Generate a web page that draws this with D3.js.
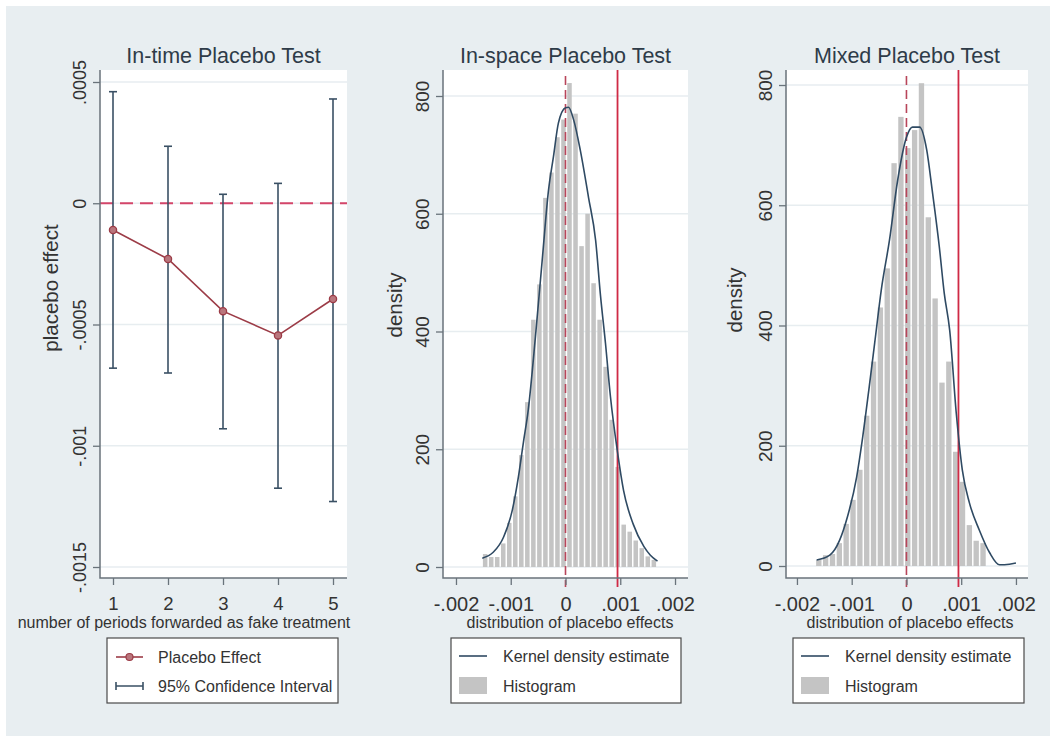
<!DOCTYPE html>
<html>
<head>
<meta charset="utf-8">
<script src="https://cdn.jsdelivr.net/npm/d3@7"></script>
<style>
  body { margin: 0; background: #fff; }
  svg { display: block; font-family: "Liberation Sans", Arial, sans-serif; }
</style>
</head>
<body>
<svg id="chart"></svg>
<script>
const WIDTH = 1056;
const HEIGHT = 740;

const BG_COLOR = "#e8eef1";
const AXIS_COLOR = "#69737b";
const TEXT_COLOR = "#333";
const TITLE_COLOR = "#2e3b48";
const CI_COLOR = "#3a5064";
const EFFECT_COLOR = "#9c3c47";
const KDE_COLOR = "#2f4a63";
const HIST_COLOR = "#c4c4c4";

// in-time placebo test
const periods = [1, 2, 3, 4, 5];
const placeboEffect = [-0.00011, -0.00023, -0.000445, -0.000545, -0.000395];
const ciUpper = [0.00046, 0.000235, 0.000037, 0.000082, 0.00043];
const ciLower = [-0.00068, -0.0007, -0.00093, -0.001175, -0.00123];
const effectTicks = [0.0005, 0, -0.0005, -0.001, -0.0015];
const effectTickLabels = [".0005", "0", "-.0005", "-.001", "-.0015"];

// placebo distributions
const distTicks = [-0.002, -0.001, 0, 0.001, 0.002];
const distTickLabels = ["-.002", "-.001", "0", ".001", ".002"];
const densityTicks = [0, 200, 400, 600, 800];
const densityTickLabels = ["0", "200", "400", "600", "800"];
const trueEffect = 0.00095;

const spaceBinStart = -0.001522;
const spaceBinWidth = 0.00011;
const spaceHist = [22, 17, 17, 40, 75, 120, 190, 280, 420, 480, 627, 670, 730, 760, 822,
                   770, 545, 600, 482, 420, 340, 250, 170, 72, 60, 45, 32, 18, 12];
const spaceKdeX = [-0.00152, -0.00132, -0.00113, -0.00097, -0.00086, -0.00077, -0.00068,
                   -0.00055, -0.00042, -0.00031, -0.00022, -0.00013, 0, 0.000055, 0.00015,
                   0.00027, 0.00042, 0.00055, 0.00064, 0.00073, 0.00082, 0.00095, 0.00106,
                   0.00124, 0.00143, 0.00155, 0.00168];
const spaceKdeY = [15, 25, 51, 97, 153, 211, 267, 390, 527, 640, 697, 754, 780, 781, 759,
                   708, 628, 555, 460, 380, 290, 195, 130, 72, 35, 20, 10];

const mixedBinStart = -0.0016635;
const mixedBinWidth = 0.000125;
const mixedHist = [10, 18, 20, 38, 70, 110, 160, 250, 340, 430, 495, 670, 747, 695, 725,
                   803, 580, 445, 305, 340, 190, 140, 68, 42, 38];
const mixedKdeX = [-0.00164, -0.0014, -0.00122, -0.00108, -0.00091, -0.0008, -0.00068,
                   -0.00058, -0.00046, -0.00031, -0.00016, 0, 0.00011, 0.00024, 0.00037,
                   0.00047, 0.0006, 0.00069, 0.00079, 0.00091, 0.00102, 0.00115, 0.00133,
                   0.00152, 0.0017, 0.00188, 0.002];
const mixedKdeY = [10, 18, 43, 81, 148, 214, 298, 371, 459, 542, 642, 713, 730, 730, 692,
                   625, 531, 454, 392, 254, 160, 105, 60, 22, 2, 3, 5];


function addFrame(svg, box, yScale, yTicks) {
    svg.append("rect")
        .attr("x", box.x0).attr("y", box.y0)
        .attr("width", box.x1 - box.x0).attr("height", box.y1 - box.y0)
        .attr("fill", "#fff");
    svg.append("g").selectAll("line")
        .data(yTicks)
        .enter()
        .append("line")
        .attr("x1", box.x0).attr("x2", box.x1)
        .attr("y1", d => yScale(d)).attr("y2", d => yScale(d))
        .attr("stroke", "#e7edf0")
        .attr("stroke-width", 1.3);
}


function addAxes(svg, box, xScale, yScale, xTicks, xLabels, yTicks, yLabels, fonts) {
    const xAxis = d3.axisBottom(xScale)
        .tickValues(xTicks)
        .tickFormat((d, i) => xLabels[i])
        .tickSize(7).tickSizeOuter(0).tickPadding(12);
    const gx = svg.append("g")
        .attr("transform", `translate(0,${box.y1})`)
        .call(xAxis);
    gx.select(".domain").remove();
    gx.selectAll("line").attr("stroke", AXIS_COLOR).attr("stroke-width", 1.3);
    gx.selectAll("text").attr("fill", TEXT_COLOR).attr("font-size", fonts.x);

    const yAxis = d3.axisLeft(yScale)
        .tickValues(yTicks)
        .tickFormat((d, i) => yLabels[i])
        .tickSize(7).tickSizeOuter(0);
    const gy = svg.append("g")
        .attr("transform", `translate(${box.x0},0)`)
        .call(yAxis);
    gy.select(".domain").remove();
    gy.selectAll("line").attr("stroke", AXIS_COLOR).attr("stroke-width", 1.3);
    gy.selectAll("text")
        .attr("transform", "rotate(-90)")
        .attr("x", 0).attr("y", -14).attr("dy", 0)
        .attr("text-anchor", "middle")
        .attr("fill", TEXT_COLOR).attr("font-size", fonts.y);

    svg.append("path")
        .attr("d", `M${box.x0},${box.y0}V${box.y1}H${box.x1}`)
        .attr("fill", "none")
        .attr("stroke", AXIS_COLOR)
        .attr("stroke-width", 1.5);
}


function addTitles(svg, box, title, xTitle, xTitleX, yTitle, yTitleX, yTitleY) {
    svg.append("text")
        .attr("x", (box.x0 + box.x1) / 2).attr("y", 63)
        .attr("text-anchor", "middle")
        .attr("font-size", 21.5).attr("fill", TITLE_COLOR)
        .text(title);
    svg.append("text")
        .attr("x", xTitleX).attr("y", 628)
        .attr("text-anchor", "middle")
        .attr("font-size", 16).attr("fill", TEXT_COLOR)
        .text(xTitle);
    svg.append("text")
        .attr("transform", `translate(${yTitleX},${yTitleY}) rotate(-90)`)
        .attr("dy", "0.35em")
        .attr("text-anchor", "middle")
        .attr("font-size", 20.5).attr("fill", TEXT_COLOR)
        .text(yTitle);
}


function addLegendBox(svg, x0, x1) {
    svg.append("rect")
        .attr("x", x0).attr("y", 638)
        .attr("width", x1 - x0).attr("height", 65)
        .attr("fill", "#fff")
        .attr("stroke", "#4a4a4a")
        .attr("stroke-width", 1.2);
}


function drawDistribution(svg, box, xDomain, yDomain, y800, spec) {
    const xScale = d3.scaleLinear().domain(xDomain).range([box.x0, box.x1]);
    const yScale = d3.scaleLinear().domain([0, 800]).range([yDomain, y800]);

    addFrame(svg, box, yScale, densityTicks);

    const bins = spec.hist.map((h, i) => ({
        x0: spec.binStart + i * spec.binWidth,
        x1: spec.binStart + (i + 1) * spec.binWidth,
        h: h
    }));
    svg.append("g").selectAll("rect")
        .data(bins)
        .enter()
        .append("rect")
        .attr("x", d => xScale(d.x0) + 0.75)
        .attr("width", d => xScale(d.x1) - xScale(d.x0) - 1.5)
        .attr("y", d => yScale(d.h))
        .attr("height", d => yScale(0) - yScale(d.h))
        .attr("fill", HIST_COLOR);

    // reference lines: zero and the true effect
    svg.append("line")
        .attr("x1", xScale(0)).attr("x2", xScale(0))
        .attr("y1", box.y0 + 6).attr("y2", box.y1 + 9)
        .attr("stroke", "#b8455a").attr("stroke-width", 1.6)
        .attr("stroke-dasharray", "9 5");
    svg.append("line")
        .attr("x1", xScale(trueEffect)).attr("x2", xScale(trueEffect))
        .attr("y1", box.y0).attr("y2", box.y1 + 9)
        .attr("stroke", "#cf2a45").attr("stroke-width", 1.8);

    const kde = spec.kdeX.map((x, i) => [x, spec.kdeY[i]]);
    svg.append("path")
        .datum(kde)
        .attr("d", d3.line()
            .x(d => xScale(d[0]))
            .y(d => yScale(d[1]))
            .curve(d3.curveMonotoneX))
        .attr("fill", "none")
        .attr("stroke", KDE_COLOR)
        .attr("stroke-width", 1.6);

    addAxes(svg, box, xScale, yScale, distTicks, distTickLabels, densityTicks, densityTickLabels,
            { x: 20, y: 19 });
    addTitles(svg, box, spec.title, "distribution of placebo effects", spec.xTitleX,
              "density", spec.yTitleX, spec.yTitleY);

    addLegendBox(svg, spec.legendX0, spec.legendX1);
    const lx = spec.legendX0 + 8;
    svg.append("line")
        .attr("x1", lx).attr("x2", lx + 28)
        .attr("y1", 656).attr("y2", 656)
        .attr("stroke", KDE_COLOR).attr("stroke-width", 1.6);
    svg.append("rect")
        .attr("x", lx).attr("y", 677)
        .attr("width", 28).attr("height", 17)
        .attr("fill", HIST_COLOR);
    svg.append("text")
        .attr("x", lx + 44).attr("y", 656).attr("dy", "0.35em")
        .attr("font-size", 16).attr("fill", TEXT_COLOR)
        .text("Kernel density estimate");
    svg.append("text")
        .attr("x", lx + 44).attr("y", 686).attr("dy", "0.35em")
        .attr("font-size", 16).attr("fill", TEXT_COLOR)
        .text("Histogram");
}


function drawInTime(svg) {
    const box = { x0: 100, x1: 347, y0: 70, y1: 578 };
    const xScale = d3.scaleLinear().domain([0.7636, 5.2545]).range([box.x0, box.x1]);
    const yScale = d3.scaleLinear().domain([-0.0015, 0.0005]).range([567, 82]);

    addFrame(svg, box, yScale, effectTicks);

    svg.append("line")
        .attr("x1", box.x0).attr("x2", box.x1)
        .attr("y1", yScale(0)).attr("y2", yScale(0))
        .attr("stroke", "#d4456a").attr("stroke-width", 2.2)
        .attr("stroke-dasharray", "13 7");

    const rows = periods.map((p, i) => ({
        p: p, est: placeboEffect[i], lo: ciLower[i], hi: ciUpper[i]
    }));

    const ci = svg.append("g").attr("stroke", CI_COLOR).attr("stroke-width", 1.6);
    ci.selectAll(".bar").data(rows).enter().append("line")
        .attr("x1", d => xScale(d.p)).attr("x2", d => xScale(d.p))
        .attr("y1", d => yScale(d.hi)).attr("y2", d => yScale(d.lo));
    ci.selectAll(".capHi").data(rows).enter().append("line")
        .attr("x1", d => xScale(d.p) - 4).attr("x2", d => xScale(d.p) + 4)
        .attr("y1", d => yScale(d.hi)).attr("y2", d => yScale(d.hi));
    ci.selectAll(".capLo").data(rows).enter().append("line")
        .attr("x1", d => xScale(d.p) - 4).attr("x2", d => xScale(d.p) + 4)
        .attr("y1", d => yScale(d.lo)).attr("y2", d => yScale(d.lo));

    svg.append("path")
        .datum(rows)
        .attr("d", d3.line().x(d => xScale(d.p)).y(d => yScale(d.est)))
        .attr("fill", "none")
        .attr("stroke", EFFECT_COLOR)
        .attr("stroke-width", 1.6);
    svg.append("g").selectAll("circle")
        .data(rows)
        .enter()
        .append("circle")
        .attr("cx", d => xScale(d.p))
        .attr("cy", d => yScale(d.est))
        .attr("r", 3.6)
        .attr("fill", "#b9767d")
        .attr("stroke", EFFECT_COLOR)
        .attr("stroke-width", 1.3);

    addAxes(svg, box, xScale, yScale, periods, periods.map(String), effectTicks, effectTickLabels,
            { x: 18.5, y: 18 });
    addTitles(svg, box, "In-time Placebo Test", "number of periods forwarded as fake treatment", 184,
              "placebo effect", 51, 288);

    addLegendBox(svg, 107, 338);
    svg.append("line")
        .attr("x1", 116).attr("x2", 143).attr("y1", 657).attr("y2", 657)
        .attr("stroke", EFFECT_COLOR).attr("stroke-width", 1.6);
    svg.append("circle")
        .attr("cx", 129.5).attr("cy", 657).attr("r", 3.5)
        .attr("fill", "#b9767d").attr("stroke", EFFECT_COLOR).attr("stroke-width", 1.2);
    svg.append("path")
        .attr("d", "M116,682V690M116,686H143M143,682V690")
        .attr("fill", "none")
        .attr("stroke", CI_COLOR).attr("stroke-width", 1.6);
    svg.append("text")
        .attr("x", 158).attr("y", 657).attr("dy", "0.35em")
        .attr("font-size", 16).attr("fill", TEXT_COLOR)
        .text("Placebo Effect");
    svg.append("text")
        .attr("x", 158).attr("y", 686).attr("dy", "0.35em")
        .attr("font-size", 16).attr("fill", TEXT_COLOR)
        .text("95% Confidence Interval");
}


document.addEventListener("DOMContentLoaded", function() {
    const svg = d3.select("#chart")
        .attr("width", WIDTH)
        .attr("height", HEIGHT);

    svg.append("rect")
        .attr("x", 6).attr("y", 6)
        .attr("width", WIDTH - 12).attr("height", HEIGHT - 10)
        .attr("fill", BG_COLOR);

    drawInTime(svg);

    drawDistribution(svg, { x0: 443, x1: 688, y0: 70, y1: 578 },
        [-0.002237, 0.002237], 567, 96, {
            title: "In-space Placebo Test",
            binStart: spaceBinStart, binWidth: spaceBinWidth, hist: spaceHist,
            kdeX: spaceKdeX, kdeY: spaceKdeY,
            xTitleX: 570, yTitleX: 395, yTitleY: 305,
            legendX0: 451, legendX1: 681
        });

    drawDistribution(svg, { x0: 786, x1: 1028, y0: 70, y1: 578 },
        [-0.0022, 0.00222], 566, 85, {
            title: "Mixed Placebo Test",
            binStart: mixedBinStart, binWidth: mixedBinWidth, hist: mixedHist,
            kdeX: mixedKdeX, kdeY: mixedKdeY,
            xTitleX: 910, yTitleX: 735, yTitleY: 300,
            legendX0: 793, legendX1: 1024
        });
});
</script>
</body>
</html>
